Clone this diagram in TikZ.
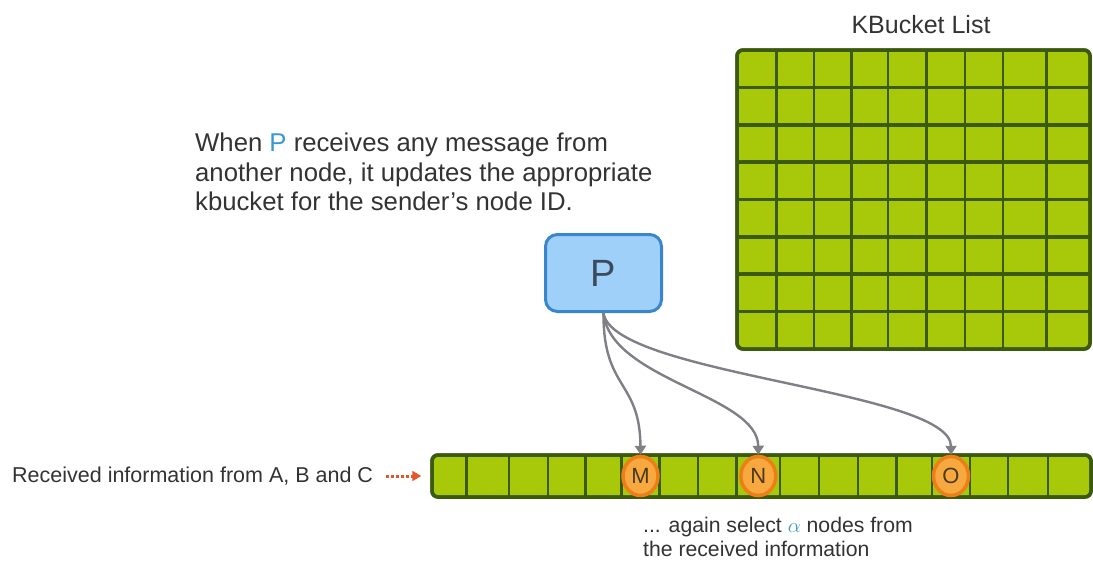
\documentclass[tikz,border=0pt]{standalone}
\usepackage{fontspec}
\setmainfont{Liberation Sans}
\usetikzlibrary{arrows.meta,shapes.geometric}
\definecolor{txt}{HTML}{333333}
\definecolor{cellfill}{HTML}{A8C80A}
\definecolor{cellline}{HTML}{3B5A0C}
\definecolor{pfill}{HTML}{9ED0FA}
\definecolor{pline}{HTML}{3A86CC}
\definecolor{ptext}{HTML}{3D4A5C}
\definecolor{hl}{HTML}{3A98D0}
\definecolor{arr}{HTML}{7E8086}
\definecolor{ofill}{HTML}{F7A83E}
\definecolor{oline}{HTML}{EE7F18}
\definecolor{otext}{HTML}{4A3A1A}
\definecolor{redarr}{HTML}{E2582A}
\begin{document}
\begin{tikzpicture}[x=1pt,y=-1pt,
  lbl/.style={text=txt,inner sep=0pt},
  gridbox/.style={draw=cellline,fill=cellfill,line width=3.5pt,rounded corners=6pt,inner sep=0pt},
  divider/.style={draw=cellline,line width=2.6pt},
  rowline/.style={draw=cellline,line width=3.6pt},
  pick/.style={ellipse,draw=oline,fill=ofill,line width=3.5pt,minimum width=35pt,minimum height=39pt,inner sep=0pt,text=otext,font=\fontsize{22}{22}\selectfont},
  link/.style={draw=arr,line width=2.4pt,-{Triangle[width=11pt,length=9pt]}},
  feed/.style={draw=redarr,line width=3pt,dash pattern=on 3pt off 2pt,-{Triangle[width=10pt,length=9pt]}}
]
\useasboundingbox[fill=white] (0,0) rectangle (1093,565);

% KBucket list grid
\node[lbl,font=\fontsize{25}{25}\selectfont,anchor=base] (title) at (921,33) {KBucket List};
\node[gridbox,minimum width=353pt,minimum height=299pt] (kb) at (913.5,199.5) {};
\foreach \x in {776.7,814,851.7,888,926.7,965,1003,1046.7}
  \draw[divider] (\x,50) -- (\x,349);
\foreach \y in {87.4,124.8,162.1,199.5,236.9,274.2,311.6}
  \draw[rowline] (737,\y) -- (1090,\y);
\node[gridbox,draw=cellline,fill=none,minimum width=353pt,minimum height=299pt] (kbo) at (913.5,199.5) {};

% description
\node[lbl,font=\fontsize{25.7}{29.5}\selectfont,align=left,anchor=north west] (desc) at (195,133)
  {When {\color{hl}P} receives any message from\\another node, it updates the appropriate\\kbucket for the sender's node ID.};

% P node
\node[draw=pline,fill=pfill,line width=3pt,rounded corners=12pt,minimum width=116pt,minimum height=77pt,
  text=ptext,font=\fontsize{38}{38}\selectfont] (P) at (603.5,273) {P};

% received bar
\node[gridbox,minimum width=659pt,minimum height=42pt] (bar) at (761.5,476) {};
\foreach \x in {466.7,509,548,585.7,621.7,659.3,698,736.7,780,819,858,896.7,932,970,1008,1048}
  \draw[divider] (\x,455) -- (\x,497);
\node[gridbox,fill=none,minimum width=659pt,minimum height=42pt] (baro) at (761.5,476) {};

\node[pick] (M) at (640.5,476) {M};
\node[pick] (N) at (758.3,476) {N};
\node[pick] (O) at (951,476) {O};

% connectors
\draw[link] (P.south) .. controls (603,390) and (640,380) .. (M.north);
\draw[link] (P.south) .. controls (610,380) and (758,395) .. (N.north);
\draw[link] (P.south) .. controls (612,375) and (951,390) .. (O.north);

% received label and arrow
\node[lbl,font=\fontsize{21.5}{24}\selectfont,anchor=west] (recv) at (12,476) {Received information from A, B and C};
\draw[feed,shorten <=13pt,shorten >=9pt] (recv.east) -- (bar.west);

% select label
\node[lbl,font=\fontsize{21.2}{24}\selectfont,align=left,anchor=north west] (sel) at (643,517)
  {... again select {\color{hl}$\alpha$} nodes from\\the received information};
\end{tikzpicture}
\end{document}
